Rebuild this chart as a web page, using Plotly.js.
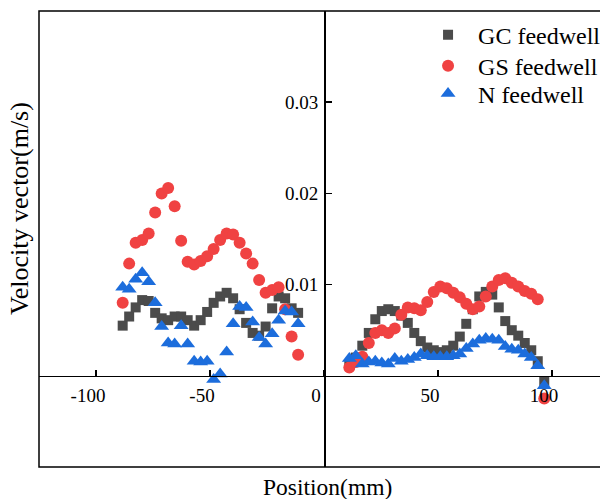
<!DOCTYPE html>
<html>
<head>
<meta charset="utf-8">
<script src="https://cdn.plot.ly/plotly-3.0.1.min.js"></script>
<style>
html,body{margin:0;padding:0;background:#fff;}
#wrap{width:600px;height:499px;overflow:hidden;position:relative;}
#plot{width:620px;height:499px;}
</style>
</head>
<body>
<div id="wrap"><div id="plot"></div></div>
<script>
// Positions (mm)
const xLeft = [-88.3,-85.45,-82.6,-79.75,-76.9,-74.05,-71.2,-68.35,-65.5,-62.65,-59.8,-56.95,-54.1,-51.25,-48.4,-45.55,-42.7,-39.85,-37.0,-34.15,-31.3,-28.45,-25.6,-22.75,-19.9,-17.05,-14.2,-11.35];
const xRight = [11.1,13.95,16.8,19.65,22.5,25.35,28.2,31.05,33.9,36.75,39.6,42.45,45.3,48.15,51.0,53.85,56.7,59.55,62.4,65.25,68.1,70.95,73.8,76.65,79.5,82.35,85.2,88.05,90.9,93.75,96.6];

// GC feedwell
const gcLeft = [0.0055,0.0065,0.0075,0.0083,0.0082,0.0069,0.0063,0.0061,0.0065,0.0065,0.0061,0.0055,0.0061,0.0070,0.0080,0.0087,0.0091,0.0085,0.0073,0.0058,0.0047,0.0044,0.0054,0.0074,0.0087,0.0085,0.0074,0.0069];
const gcRight = [0.0012,0.0020,0.0033,0.0047,0.0062,0.0071,0.0073,0.0071,0.0066,0.0058,0.0047,0.0038,0.0031,0.0028,0.0026,0.0028,0.0033,0.0043,0.0057,0.0073,0.0087,0.0092,0.0089,0.0075,0.0060,0.0050,0.0044,0.0036,0.0028,0.0016,-0.0006];

// GS feedwell
const gsLeft = [0.0080,0.0123,0.0146,0.0149,0.0156,0.0179,0.0200,0.0206,0.0186,0.0148,0.0125,0.0122,0.0126,0.0131,0.0139,0.0149,0.0156,0.0155,0.0146,0.0134,0.0123,0.0105,0.0091,0.0094,0.0097,0.0073,0.0043,0.0023];
const gsRight = [0.0009,0.0015,0.0021,0.0036,0.0047,0.0050,0.0047,0.0052,0.0067,0.0075,0.0074,0.0072,0.0081,0.0092,0.0098,0.0096,0.0091,0.0086,0.0079,0.0073,0.0076,0.0087,0.0098,0.0105,0.0107,0.0102,0.0098,0.0093,0.0090,0.0084,-0.0025];

// N feedwell
const nLeft = [0.0097,0.0095,0.0106,0.0113,0.0103,0.0080,0.0054,0.0036,0.0035,0.0055,0.0035,0.0016,0.0015,0.0016,-0.0004,0.0002,0.0026,0.0057,0.0076,0.0075,0.0059,0.0042,0.0035,0.0046,0.0061,0.0071,0.0070,0.0057];
const nRight = [0.0019,0.0022,0.0013,0.0015,0.0016,0.0014,0.0013,0.0019,0.0016,0.0018,0.0020,0.0024,0.0022,0.0021,0.0021,0.0021,0.0022,0.0024,0.0030,0.0035,0.0039,0.0041,0.0040,0.0039,0.0032,0.0029,0.0028,0.0024,0.0020,0.0011,-0.0011];

const seriesNames = ['GC feedwell','GS feedwell','N feedwell'];
const xTickVals = [-100,-50,0,50,100];
const xTickText = ['-100','-50','0','50','100'];
const yTickVals = [0.01,0.02,0.03];
const yTickText = ['0.01','0.02','0.03'];

const xAll = xLeft.concat(xRight);
const font = 'Liberation Serif, Times New Roman, serif';

const traces = [
  {x:xAll, y:gcLeft.concat(gcRight), name:seriesNames[0], type:'scatter', mode:'markers', legend:'legend',
   marker:{symbol:'square', size:10, color:'#4b4b4b'}},
  {x:xAll, y:gsLeft.concat(gsRight), name:seriesNames[1], type:'scatter', mode:'markers', legend:'legend2',
   marker:{symbol:'circle', size:12, color:'#f04242'}},
  {x:xAll, y:nLeft.concat(nRight), name:seriesNames[2], type:'scatter', mode:'markers', legend:'legend3',
   marker:{symbol:'triangle-up', size:13, color:'#1c6ddc'}}
];

function leg(yc){
  return {x:0.665, y:yc, xanchor:'left', yanchor:'middle', font:{family:font, size:24, color:'#000'},
          bgcolor:'rgba(0,0,0,0)', itemwidth:50, borderwidth:0};
}

const layout = {
  width:620, height:499,
  margin:{l:39, r:11, t:11, b:32},
  paper_bgcolor:'#fff', plot_bgcolor:'#fff',
  font:{family:font, color:'#000', size:19},
  showlegend:true,
  legend:leg(0.947),
  legend2:leg(0.879),
  legend3:leg(0.818),
  xaxis:{range:[-125,125], anchor:'free', position:0.2, showgrid:false, zeroline:false,
         showline:true, linecolor:'#000', linewidth:1.5,
         ticks:'inside', ticklen:6, tickwidth:1.5, tickcolor:'#000',
         tickvals:xTickVals, ticktext:xTickText, ticklabelshift:-8, ticklabelstandoff:2,
         tickfont:{family:font, size:19, color:'#000'}},
  yaxis:{range:[-0.01,0.04], anchor:'free', position:0.5, showgrid:false, zeroline:false,
         showline:true, linecolor:'#000', linewidth:1.5,
         ticks:'inside', ticklen:6, tickwidth:1.5, tickcolor:'#000',
         tickvals:yTickVals, ticktext:yTickText, ticklabelstandoff:2,
         tickfont:{family:font, size:19, color:'#000'}},
  shapes:[{type:'rect', xref:'paper', yref:'paper', x0:0, x1:1, y0:0, y1:1,
           line:{color:'#000', width:1.5}, fillcolor:'rgba(0,0,0,0)'}],
  annotations:[
    {text:'Position(mm)', xref:'paper', yref:'paper', x:0.506, y:-0.044, xanchor:'center', yanchor:'middle',
     showarrow:false, font:{family:font, size:23.5, color:'#000'}},
    {text:'Velocity vector(m/s)', xref:'paper', yref:'paper', x:-0.033, y:0.566, xanchor:'center', yanchor:'middle',
     textangle:-90, showarrow:false, font:{family:font, size:26, color:'#000'}}
  ]
};

Plotly.newPlot('plot', traces, layout, {staticPlot:true, displayModeBar:false});
</script>
</body>
</html>
